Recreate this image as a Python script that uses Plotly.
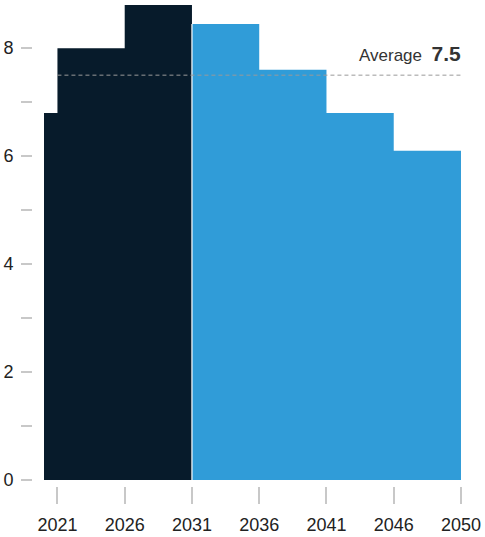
import numpy as np
import plotly.graph_objects as go

# ---- data ----
tick_years = [2021, 2026, 2031, 2036, 2041, 2046, 2050]
tick_labels = ["2021", "2026", "2031", "2036", "2041", "2046", "2050"]
period_start = [2020, 2021, 2026, 2031, 2036, 2041, 2046]
period_end = [2021, 2026, 2031, 2036, 2041, 2046, 2050]
values = [6.8, 8.0, 8.8, 8.45, 7.6, 6.8, 6.1]
phase = ["past", "past", "past", "future", "future", "future", "future"]
average = 7.5

DARK = "#071b2b"
BLUE = "#309cd8"
FONT = "Liberation Sans, Arial, sans-serif"

idx = np.arange(len(tick_years), dtype=float)


def pos(year):
    """Map a year onto the evenly spaced period axis."""
    y = float(year)
    if y < tick_years[0]:
        step = tick_years[1] - tick_years[0]
        return (y - tick_years[0]) / step
    return float(np.interp(y, tick_years, idx))


left = np.array([pos(s) for s in period_start])
right = np.array([pos(e) for e in period_end])

fig = go.Figure()
for ph_name, col in [("past", DARK), ("future", BLUE)]:
    sel = [i for i, p in enumerate(phase) if p == ph_name]
    xs = [left[i] for i in sel] + [right[sel[-1]]]
    ys = [values[i] for i in sel] + [values[sel[-1]]]
    fig.add_trace(go.Scatter(
        x=xs, y=ys, mode="lines", line=dict(shape="hv", width=0, color=col),
        fill="tozeroy", fillcolor=col, hoverinfo="skip",
    ))

x_lo = left[0]
x_hi = right[-1] + 0.03

W, H = 485, 537
ml, mr, mt, mb = 0, 22, 5, 0
pw, ph = W - ml - mr, H - mt - mb

shapes = []
for i in range(1, len(phase)):
    if phase[i] != phase[i - 1]:
        shapes.append(dict(type="line", xref="x", yref="y",
                           x0=left[i], x1=left[i], y0=0,
                           y1=min(values[i], values[i - 1]),
                           line=dict(color="white", width=1.2), layer="above"))
shapes.append(dict(type="line", xref="x", yref="y",
                   x0=pos(tick_years[0]), x1=x_hi, y0=average, y1=average,
                   line=dict(color="#9a9a9a", width=1, dash="4px,3px"),
                   layer="above"))

fig.update_layout(
    width=W, height=H,
    margin=dict(l=ml, r=mr, t=mt, b=mb, pad=0, autoexpand=False),
    paper_bgcolor="white", plot_bgcolor="white",
    showlegend=False,
    font=dict(family=FONT, color="#222222"),
    shapes=shapes,
    xaxis=dict(
        domain=[44 / pw, 1],
        range=[x_lo, x_hi],
        anchor="free", position=(H - 486) / ph,
        tickvals=idx, ticktext=tick_labels,
        ticks="outside", ticklen=17, tickwidth=1.5, tickcolor="#c8c8c8",
        ticklabelstandoff=5,
        tickfont=dict(size=18, color="#222222", family=FONT),
        showgrid=False, zeroline=False, showline=False, automargin=False,
    ),
    yaxis=dict(
        domain=[(H - 480) / ph, 1],
        range=[0, 8.8],
        anchor="free", position=32 / pw,
        tick0=0, dtick=2,
        ticks="outside", ticklen=11, tickwidth=1.5, tickcolor="#c8c8c8",
        minor=dict(dtick=1, ticks="outside", ticklen=11, tickwidth=1.5,
                   tickcolor="#c8c8c8"),
        ticklabelstandoff=4,
        tickfont=dict(size=18, color="#222222", family=FONT),
        showgrid=False, zeroline=False, showline=False, automargin=False,
    ),
    annotations=[dict(
        xref="x", yref="y", x=x_hi, y=average,
        xanchor="right", yanchor="bottom", yshift=8, showarrow=False,
        text=("Average  <span style='font-size:21px'><b>%g</b></span>" % average),
        font=dict(size=17, color="#333333", family=FONT),
    )],
)

fig.write_html("out.html", config={"displayModeBar": False},
               post_script="document.body.style.margin='0';")
